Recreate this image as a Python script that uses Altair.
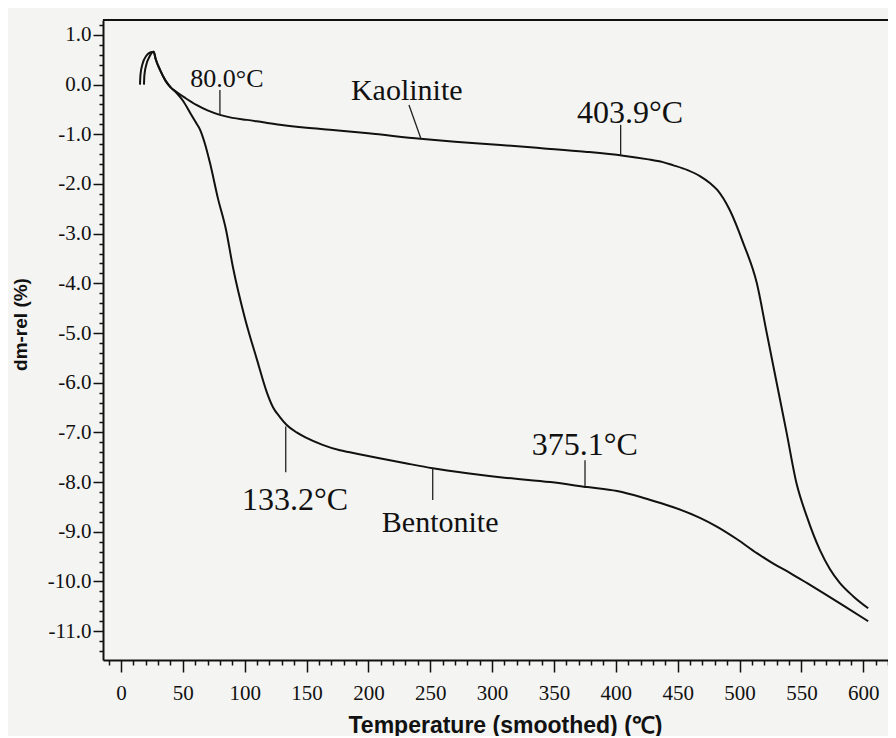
import altair as alt
import pandas as pd

# ---- data ----
kao_T = [15.4, 15.8, 17.5, 20.5, 24, 26.5, 28, 31.5, 36, 40, 45, 52, 61, 70, 80, 90, 102, 115,
         128.5, 150, 169, 200, 242, 270, 304, 340, 375, 406, 425, 438, 446, 458, 468, 476, 482,
         492, 503, 514, 522, 530, 538, 546, 554.5, 565, 573, 581, 592, 604]
kao_v = [0.0, 0.2, 0.42, 0.58, 0.65, 0.66, 0.52, 0.3, 0.08, -0.05, -0.15, -0.27, -0.41, -0.52,
         -0.61, -0.67, -0.71, -0.76, -0.81, -0.87, -0.91, -0.98, -1.09, -1.15, -1.21, -1.28,
         -1.35, -1.43, -1.5, -1.56, -1.62, -1.72, -1.84, -1.98, -2.12, -2.52, -3.19, -4.0, -5.0,
         -6.0, -7.0, -8.02, -8.7, -9.37, -9.75, -10.03, -10.3, -10.54]

ben_T = [18.6, 19.0, 20.5, 23, 26.5, 28, 31.5, 36, 40, 45, 50, 56, 60, 64, 68, 72, 78.4, 85,
         90.5, 100, 110, 118, 123, 128.5, 134, 142, 150, 163, 177, 185, 209, 230, 252, 280, 310,
         347, 377, 401, 420, 428, 446, 468, 482, 498, 514, 528, 541, 555, 567.5, 585, 604]
ben_v = [0.0, 0.2, 0.4, 0.56, 0.66, 0.52, 0.3, 0.08, -0.05, -0.17, -0.32, -0.57, -0.74, -0.91,
         -1.2, -1.58, -2.29, -2.93, -3.67, -4.68, -5.54, -6.2, -6.5, -6.69, -6.85, -7.0, -7.11,
         -7.25, -7.36, -7.4, -7.52, -7.62, -7.72, -7.82, -7.91, -8.0, -8.1, -8.18, -8.3, -8.36,
         -8.5, -8.72, -8.9, -9.15, -9.43, -9.65, -9.83, -10.04, -10.23, -10.5, -10.8]

ann_text = ["80.0°C", "Kaolinite", "403.9°C", "133.2°C", "Bentonite", "375.1°C"]
ann_T = [85.7, 231, 411.5, 140.7, 258, 375]
ann_v = [-0.05, -0.31, -0.77, -8.56, -9.0, -7.46]
ann_size = [26, 30, 32, 32, 30, 32]

lead_T1 = [80, 232.8, 403.9, 133.2, 252, 375.1]
lead_v1 = [-0.11, -0.41, -0.81, -6.88, -7.72, -7.56]
lead_T2 = [80, 242.5, 403.9, 133.2, 252, 375.1]
lead_v2 = [-0.61, -1.09, -1.43, -7.80, -8.36, -8.09]

x_ticks = list(range(-10, 621, 10))
y_ticks = [round(-11.4 + 0.2 * i, 1) for i in range(64)]

XMIN, XMAX = -14.5, 620.0
YMIN, YMAX = -11.58, 1.30
W, H = 785, 640

curves = pd.concat([
    pd.DataFrame({"T": kao_T, "v": kao_v, "s": "Kaolinite", "i": range(len(kao_T))}),
    pd.DataFrame({"T": ben_T, "v": ben_v, "s": "Bentonite", "i": range(len(ben_T))}),
])
ann = pd.DataFrame({"t": ann_text, "T": ann_T, "v": ann_v, "size": ann_size})
leads = pd.DataFrame({"T1": lead_T1, "v1": lead_v1, "T2": lead_T2, "v2": lead_v2})

xs = alt.Scale(domain=[XMIN, XMAX], nice=False, zero=False)
ys = alt.Scale(domain=[YMIN, YMAX], nice=False, zero=False)

x_axis = alt.Axis(
    values=x_ticks, format="d", tickCount=500,
    labelExpr="datum.value % 50 === 0 ? datum.label : ''",
    tickSize={"condition": {"test": "datum.value % 50 === 0", "value": 12}, "value": 5},
    labelPadding=10, labelFont="Liberation Serif", labelFontSize=21, labelColor="#111",
    labelFlush=False, labelOverlap=False,
    tickColor="#111", tickWidth=1.5, domainColor="#111", domainWidth=2, grid=False,
    title="Temperature (smoothed) (℃)", titleFont="Liberation Sans", titleFontWeight="bold",
    titleFontSize=23, titleColor="#111", titleX=402, titleY=72, titleAnchor="middle",
    titleAlign="center", titleBaseline="alphabetic",
)
y_axis = alt.Axis(
    values=y_ticks, tickCount=500,
    labelExpr="abs(datum.value - round(datum.value)) < 0.001 ? (datum.value < -0.001 ? '-' : '') + format(abs(datum.value), '.1f') : ''",
    tickSize={"condition": {"test": "abs(datum.value - round(datum.value)) < 0.001", "value": 10}, "value": 4},
    labelPadding=2, labelFont="Liberation Serif", labelFontSize=21, labelColor="#111",
    labelFlush=False, labelOverlap=False,
    tickColor="#111", tickWidth=1.5, domainColor="#111", domainWidth=2, grid=False,
    title="dm-rel (%)", titleFont="Liberation Sans", titleFontWeight="bold", titleFontSize=19,
    titleColor="#111", titleX=-83, titleY=304, titleAngle=-90, titleAlign="center",
    titleBaseline="middle",
)

lines = alt.Chart(curves).mark_line(color="#111", strokeWidth=2, interpolate="monotone").encode(
    x=alt.X("T:Q", scale=xs, axis=x_axis),
    y=alt.Y("v:Q", scale=ys, axis=y_axis),
    detail="s:N",
    order="i:Q",
)

lead = alt.Chart(leads).mark_rule(color="#222", strokeWidth=1.3).encode(
    x=alt.X("T1:Q", scale=xs), y=alt.Y("v1:Q", scale=ys),
    x2="T2:Q", y2="v2:Q",
)

labels = alt.Chart(ann).mark_text(font="Liberation Serif", color="#111", baseline="alphabetic",
                                  align="center").encode(
    x=alt.X("T:Q", scale=xs), y=alt.Y("v:Q", scale=ys),
    text="t:N", size=alt.Size("size:Q", scale=None, legend=None),
)

top = alt.Chart(ann).mark_rule(color="#111", strokeWidth=2).encode(
    x=alt.value(0), x2=alt.value(W), y=alt.value(0)
)

chart = alt.layer(lines, lead, labels, top).properties(
    width=W, height=H,
    autosize=alt.AutoSizeParams(type="none"),
    padding={"left": 95, "top": 12, "right": 0, "bottom": 76},
    background="#f4f4f2",
).configure_view(stroke=None)

chart.save("out.html", embed_options={"renderer": "svg", "actions": False})
